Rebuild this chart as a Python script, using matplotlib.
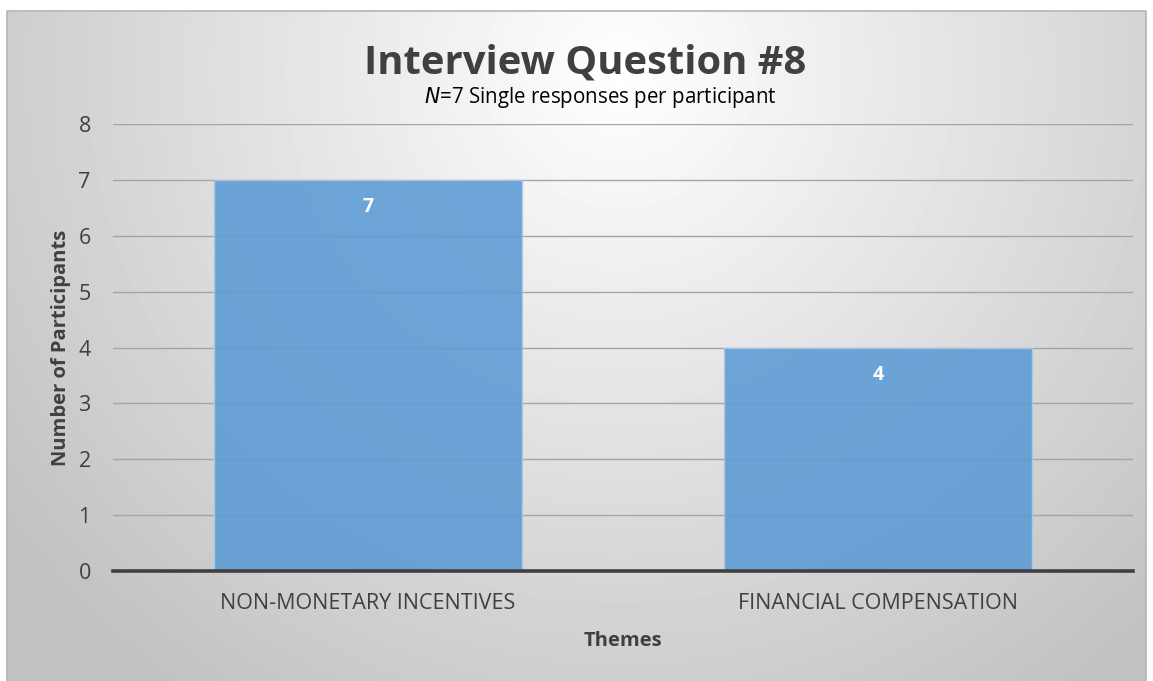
import numpy as np
import matplotlib.pyplot as plt

categories = ['NON-MONETARY INCENTIVES', 'FINANCIAL COMPENSATION']
participants = [7, 4]
y_ticks = [0, 1, 2, 3, 4, 5, 6, 7, 8]

W, H = 1153, 681
plt.rcParams['font.family'] = ['Open Sans', 'DejaVu Sans']

fig = plt.figure(figsize=(W / 100, H / 100), dpi=100)
fig.patch.set_facecolor('white')

# radial grey gradient background inside a thin frame
bg = fig.add_axes([0, 0, 1, 1], zorder=0)
bg.set_xlim(0, W)
bg.set_ylim(H, 0)
bg.axis('off')
x0, x1, y0, y1 = 7, 1146, 11, 681
xx, yy = np.meshgrid(np.linspace(x0, x1, 300), np.linspace(y0, y1, 200))
d = np.sqrt(((xx - 620) / 700) ** 2 + ((yy - 70) / 700) ** 2)
shade = 1.0 - 0.24 * np.clip(d, 0, 1.2) / 1.2 * 1.1
shade = np.clip(shade, 0.76, 1.0)
bg.imshow(shade, cmap='gray', vmin=0, vmax=1, extent=[x0, x1, y1, y0],
          aspect='auto', interpolation='bilinear')
bg.plot([x0, x0, x1, x1], [y1, y0, y0, y1], color='#b4b4b4', lw=1.2)

ax = fig.add_axes([113 / W, 1 - 571 / H, (1133 - 113) / W, (571 - 124) / H], zorder=1)
ax.patch.set_alpha(0)
x = np.arange(len(categories))
bars = ax.bar(x, participants, width=0.604, color='#5b9bd5', alpha=0.88,
              edgecolor='#a9cbea', linewidth=1, zorder=2)
ax.set_xlim(-0.5, len(categories) - 0.5)
ax.set_ylim(0, 8)
ax.set_yticks(y_ticks)
ax.grid(axis='y', color='#a4a4a4', lw=1, zorder=1)
ax.set_axisbelow(True)
for s in ['top', 'right', 'left']:
    ax.spines[s].set_visible(False)
ax.spines['bottom'].set_color('#404040')
ax.spines['bottom'].set_linewidth(2.6)
ax.spines['bottom'].set_zorder(3)
ax.tick_params(axis='both', length=0, labelsize=15.5, labelcolor='#404040')
ax.tick_params(axis='y', pad=16)
ax.tick_params(axis='x', pad=16)
ax.set_xticks(x)
ax.set_xticklabels(categories)

for rect, v in zip(bars, participants):
    ax.annotate(str(v), (rect.get_x() + rect.get_width() / 2, v),
                xytext=(0, -27), textcoords='offset pixels', ha='center', va='center',
                color='white', fontsize=14, fontweight='bold')

ax.set_xlabel('Themes', fontsize=14.5, fontweight='bold', color='#404040', labelpad=12)
ax.set_ylabel('Number of Participants', fontsize=14.5, fontweight='bold', color='#404040', labelpad=5)

fig.text(585 / W, 1 - 63 / H, 'Interview Question #8', ha='center', va='center',
         fontsize=28.8, fontweight='bold', color='#404040')
fig.text(600 / W, 1 - 97 / H, r'$\it{N}$' + '=7 Single responses per participant',
         ha='center', va='center', fontsize=14.8, color='#000000')

fig.savefig('out.png', dpi=100)
